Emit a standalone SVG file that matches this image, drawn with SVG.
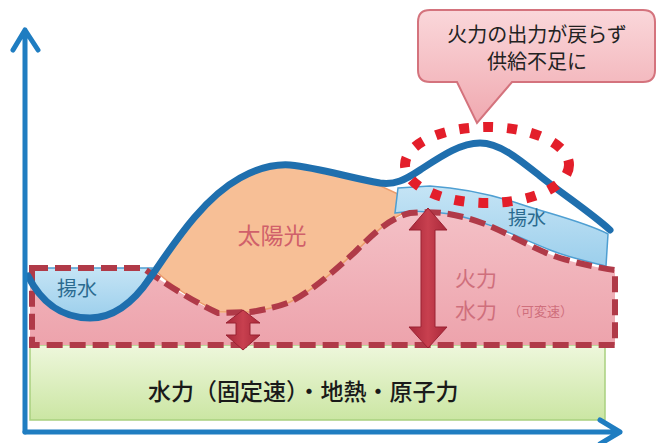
<svg xmlns="http://www.w3.org/2000/svg" width="667" height="443" viewBox="0 0 667 443">
<defs>
<linearGradient id="gGreen" x1="0" y1="0" x2="0" y2="1"><stop offset="0" stop-color="#eef7dc"/><stop offset="1" stop-color="#cbe6a3"/></linearGradient>
<linearGradient id="gPink" x1="0" y1="0" x2="0" y2="1"><stop offset="0" stop-color="#f4c0c6"/><stop offset="1" stop-color="#eda3ac"/></linearGradient>
<linearGradient id="gCall" x1="0" y1="0" x2="0" y2="1"><stop offset="0" stop-color="#fad7da"/><stop offset="1" stop-color="#f0a9b0"/></linearGradient>
<linearGradient id="gBlue" x1="0" y1="0" x2="0" y2="1"><stop offset="0" stop-color="#c5e4f5"/><stop offset="1" stop-color="#9ccfec"/></linearGradient>
<linearGradient id="gArrow" x1="0" y1="0" x2="1" y2="0"><stop offset="0" stop-color="#a8283a"/><stop offset="0.5" stop-color="#c8404f"/><stop offset="1" stop-color="#a8283a"/></linearGradient>
</defs>
<style>
.lbl{font-family:"Noto Sans CJK JP","Noto Sans CJK SC",sans-serif;}
.axis{fill:none;stroke:#1f7dc1;stroke-width:5;stroke-linecap:round;stroke-linejoin:round;}
.dash{fill:none;stroke:#b03a48;stroke-width:6;stroke-dasharray:16 7;}
.arrow{fill:url(#gArrow);stroke:#9a2233;stroke-width:1;}
.pump{fill:url(#gBlue);stroke:#4f9fd2;stroke-width:1.5;}
.therm{fill:#cf6f7c;}
</style>

<g id="base-load">
<rect x="30" y="345" width="575" height="75" fill="url(#gGreen)" stroke="#a9d07f" stroke-width="1.5"/>
<text class="lbl" x="148" y="400" font-size="23" font-weight="500" fill="#1a1a1a">水力（固定速）・地熱・原子力</text>
</g>

<g id="variable-load">
<path d="M30,268 L143,268 C160,280 190,300 218,313 L250,312 C265,310 280,306 290,302 C310,292 330,275 355,252 C375,232 390,218 410,213 C440,210 460,215 485,224 C510,234 535,250 560,258 C580,264 600,268 615,270 L615,345 L30,345 Z" fill="url(#gPink)"/>
</g>

<g id="solar">
<path d="M155,270 C175,240 205,195 245,175 C262,167 278,164 292,165 C320,168 350,178 372,182 L398,194 L402,214 C388,220 372,236 355,252 C330,275 310,292 290,302 C280,306 265,310 250,312 L218,312 C190,298 170,285 155,270 Z" fill="#f7bf96" stroke="#eb9c6c" stroke-width="1.5"/>
<text class="lbl" x="272" y="244" font-size="23" fill="#d0606a" text-anchor="middle">太陽光</text>
</g>

<g id="pumped-left">
<path d="M30,268 L152,268 C140,290 125,318 92,318 C60,318 40,300 30,278 Z" class="pump"/>
<text class="lbl" x="77" y="296" font-size="20" fill="#2b6b90" text-anchor="middle">揚水</text>
</g>

<g id="pumped-right">
<path d="M398,188 L430,186 C460,188 490,194 520,204 C550,214 585,222 608,234 L606,266 C590,262 570,258 550,250 C520,238 490,222 450,214 C430,211 410,211 395,213 Z" class="pump"/>
<text class="lbl" x="527" y="225" font-size="19" fill="#2b6b90" text-anchor="middle">揚水</text>
</g>

<g id="connectors">
<path class="dash" d="M32,268 L143,268 C160,280 190,300 218,313 L250,312 C265,310 280,306 290,302 C310,292 330,275 355,252 C375,232 390,218 410,213 C440,210 460,215 485,224 C510,234 535,250 560,258 C580,264 600,268 615,270 L615,345 L32,345 Z"/>
<polygon class="arrow" points="243,310 260,323 250,323 250,335 260,335 243,350 226,335 236,335 236,323 226,323"/>
<polygon class="arrow" points="428,208 447,230 435,230 435,327 447,327 428,348 409,327 421,327 421,230 409,230"/>
<path d="M28,276 C40,300 60,318 90,318 C115,318 135,300 150,278 C170,250 200,200 240,178 C260,167 275,164 290,165 C320,168 350,178 380,183 C395,185 405,180 420,170 C440,157 460,143 480,143 C500,143 520,160 540,176 C565,196 590,212 610,230" fill="none" stroke="#1f6fae" stroke-width="7" stroke-linecap="round" stroke-linejoin="round"/>
<path class="axis" d="M25,432 L25,30 M13,50 L25,30 L38,50"/>
<path class="axis" d="M25,432 L620,432 M600,420 L620,432 L600,444"/>
</g>

<g id="labels-thermal">
<text class="lbl therm" x="455" y="286" font-size="21">火力</text>
<text class="lbl therm" x="455" y="318" font-size="21">水力</text>
<text class="lbl therm" x="508" y="316" font-size="13">（可変速）</text>
</g>

<g id="shortfall">
<ellipse cx="487" cy="165" rx="82" ry="38" fill="none" stroke="#e31e2a" stroke-width="10" stroke-dasharray="10 14"/>
</g>

<g id="callout">
<path d="M430,10 L643,10 Q655,10 655,22 L655,70 Q655,82 643,82 L512,82 L477,123 L457,82 L430,82 Q418,82 418,70 L418,22 Q418,10 430,10 Z" fill="url(#gCall)" stroke="#d4737d" stroke-width="2"/>
<text class="lbl" x="537" y="42" font-size="20" fill="#222" text-anchor="middle">火力の出力が戻らず</text>
<text class="lbl" x="537" y="69" font-size="20" fill="#222" text-anchor="middle">供給不足に</text>
</g>
</svg>
